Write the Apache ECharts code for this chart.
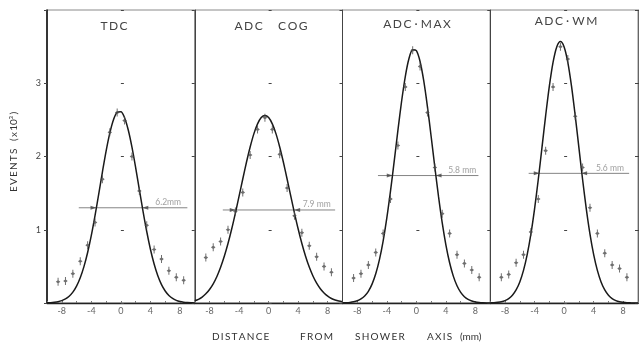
<!DOCTYPE html>
<html>
<head>
<meta charset="utf-8">
<script src="https://cdn.jsdelivr.net/npm/echarts@6/dist/echarts.min.js"></script>
<style>html,body{margin:0;padding:0;background:#fff;}#c{width:639px;height:344px;}</style>
</head>
<body>
<div id="c"></div>
<script>
// ---- data ----
const panelTitles = ['T\u2009D\u2009C', 'A\u2009D\u2009C     C\u2009O\u2009G', 'A\u2009D\u2009C \u00B7 M\u2009A\u2009X', 'A\u2009D\u2009C \u00B7 W\u2009M'];
const pointX = [-8.5,-7.5,-6.5,-5.5,-4.5,-3.5,-2.5,-1.5,-0.5,0.5,1.5,2.5,3.5,4.5,5.5,6.5,7.5,8.5];
const tdcPts = [0.29,0.30,0.40,0.57,0.79,1.10,1.69,2.33,2.60,2.49,2.00,1.53,1.06,0.73,0.60,0.44,0.35,0.31];
const cogPts = [0.62,0.76,0.84,1.00,1.25,1.51,2.02,2.37,2.53,2.37,2.03,1.57,1.19,0.96,0.78,0.63,0.50,0.42];
const maxPts = [0.34,0.40,0.52,0.69,0.95,1.42,2.15,2.95,3.45,3.23,2.60,1.85,1.22,0.95,0.66,0.54,0.45,0.35];
const wmPts  = [0.35,0.39,0.55,0.66,0.97,1.42,2.08,2.95,3.50,3.33,2.55,1.85,1.30,0.95,0.68,0.52,0.47,0.35];
const curveX = [-10,-9.5,-9,-8.5,-8,-7.5,-7,-6.5,-6,-5.5,-5,-4.5,-4,-3.5,-3,-2.5,-2,-1.5,-1,-0.5,0,0.5,1,1.5,2,2.5,3,3.5,4,4.5,5,5.5,6,6.5,7,7.5,8,8.5,9,9.5,10];
const tdcCurve = [0.003,0.005,0.010,0.018,0.033,0.056,0.093,0.149,0.231,0.345,0.497,0.690,0.924,1.194,1.488,1.788,2.074,2.319,2.502,2.603,2.612,2.529,2.361,2.127,1.848,1.548,1.252,0.976,0.734,0.532,0.372,0.251,0.164,0.103,0.062,0.036,0.020,0.011,0.006,0.003,0.001];
const cogCurve = [0.030,0.050,0.080,0.125,0.185,0.262,0.362,0.488,0.638,0.812,1.010,1.228,1.459,1.693,1.921,2.130,2.309,2.445,2.531,2.560,2.531,2.445,2.309,2.130,1.921,1.693,1.459,1.228,1.010,0.812,0.638,0.490,0.368,0.270,0.194,0.136,0.093,0.062,0.041,0.026,0.016];
const maxCurve = [0.002,0.004,0.008,0.016,0.030,0.055,0.096,0.160,0.258,0.399,0.593,0.846,1.161,1.530,1.936,2.356,2.754,3.092,3.337,3.459,3.445,3.297,3.031,2.678,2.273,1.853,1.452,1.093,0.790,0.549,0.367,0.235,0.145,0.086,0.049,0.027,0.014,0.007,0.003,0.001,0.000];
const wmCurve  = [0.002,0.004,0.009,0.017,0.033,0.060,0.106,0.178,0.287,0.445,0.660,0.941,1.286,1.686,2.121,2.558,2.960,3.285,3.496,3.570,3.496,3.285,2.960,2.558,2.121,1.686,1.286,0.941,0.660,0.445,0.287,0.178,0.106,0.060,0.033,0.017,0.009,0.004,0.002,0.001,0.000];
const fwhmLabels = ['6.2mm', '7.9 mm', '5.8 mm', '5.6 mm'];
const fwhmY = [1.30, 1.27, 1.74, 1.77];
const fwhmLineX = [[-5.7, 9.0], [-6.2, 9.0], [-5.2, 8.4], [-4.8, 8.8]];
const fwhmEdges = [[-3.3, 2.9], [-4.45, 3.45], [-3.2, 2.6], [-3.3, 2.3]];
const fwhmLabelX = [6.4, 6.5, 6.2, 6.2];
const xTickLabels = ['-8', '-4', '0', '4', '8'];
const yTickLabels = ['1', '2', '3'];
const yName = 'E\u2009V\u2009E\u2009N\u2009T\u2009S   (\u2009x\u200910\u00B3\u2009)';
const xNameParts = ['D\u2009I\u2009S\u2009T\u2009A\u2009N\u2009C\u2009E', 'F\u2009R\u2009O\u2009M', 'S\u2009H\u2009O\u2009W\u2009E\u2009R', 'A\u2009X\u2009I\u2009S', '(mm)'];

const allPts = [tdcPts, cogPts, maxPts, wmPts];
const allCurves = [tdcCurve, cogCurve, maxCurve, wmCurve];

// ---- build ----
const FONT = 'Lato, "DejaVu Sans", sans-serif';
const gridLeft = [47, 194.75, 342.5, 490.25];
const gridW = 147.75;
const grids = [], xAxes = [], yAxes = [], series = [];
const errSymbol = 'path://M-1,0 L0,-1.1 L1,0 L0,1.1 Z M-0.22,-2.4 L0.22,-2.4 L0.22,2.4 L-0.22,2.4 Z';

for (let i = 0; i < 4; i++) {
  grids.push({left: gridLeft[i], top: 10, width: gridW, height: 293, show: true,
    borderColor: '#8a8a8a', borderWidth: 1, outerBoundsMode: 'none'});
  xAxes.push({type: 'value', gridIndex: i, min: -10, max: 10, interval: 2,
    axisLine: {show: true, onZero: false, lineStyle: {color: '#222', width: 1.3}},
    axisTick: {show: true, inside: true, length: 2, lineStyle: {color: '#777'}},
    splitLine: {show: false},
    axisLabel: {fontSize: 9, color: '#666', margin: 4, fontFamily: FONT,
      formatter: v => { const s = String(v); return xTickLabels.indexOf(s) >= 0 ? s : ''; }}});
  yAxes.push({type: 'value', gridIndex: i, min: 0, max: 4, interval: 1, position: 'left',
    axisLine: {show: true, onZero: false, lineStyle: {color: i === 0 ? '#111' : '#444', width: i === 0 ? 1.6 : 1}},
    axisTick: {show: true, inside: false, length: 3, lineStyle: {color: '#444'}},
    splitLine: {show: false},
    axisLabel: {show: i === 0, fontSize: 9, color: '#444', margin: 6, fontFamily: FONT,
      formatter: v => { const s = String(v); return yTickLabels.indexOf(s) >= 0 ? s : ''; }}});
  yAxes.push({type: 'value', gridIndex: i, min: 0, max: 4, interval: 1, position: 'left',
    axisLine: {show: false}, axisTick: {show: true, inside: true, length: 3, lineStyle: {color: '#444'}},
    splitLine: {show: false}, axisLabel: {show: false}});
}
yAxes.push({type: 'value', gridIndex: 3, min: 0, max: 4, interval: 1, position: 'right',
  axisLine: {show: true, lineStyle: {color: '#666'}}, axisTick: {show: true, inside: false, length: 3, lineStyle: {color: '#444'}},
  splitLine: {show: false}, axisLabel: {show: false}});
yAxes.push({type: 'value', gridIndex: 3, min: 0, max: 4, interval: 1, position: 'right',
  axisLine: {show: false}, axisTick: {show: true, inside: true, length: 3, lineStyle: {color: '#444'}},
  splitLine: {show: false}, axisLabel: {show: false}});

for (let i = 0; i < 4; i++) {
  const yi = 2 * i;
  series.push({type: 'line', xAxisIndex: i, yAxisIndex: yi, smooth: 0.3, showSymbol: false, symbol: 'none',
    lineStyle: {color: '#1a1a1a', width: 1.5}, z: 3,
    data: curveX.map((x, k) => [x, allCurves[i][k]])});
  series.push({type: 'scatter', xAxisIndex: i, yAxisIndex: yi, symbol: errSymbol, symbolSize: [4.5, 8],
    itemStyle: {color: '#4a4a4a'}, z: 4,
    data: pointX.map((x, k) => [x, allPts[i][k]])});
  series.push({type: 'line', xAxisIndex: i, yAxisIndex: yi, symbol: 'none', z: 2,
    lineStyle: {color: '#777', width: 0.9},
    data: fwhmLineX[i].map(x => [x, fwhmY[i]])});
  series.push({type: 'scatter', xAxisIndex: i, yAxisIndex: yi, symbol: 'triangle', symbolSize: [4, 6], z: 5,
    itemStyle: {color: '#444'},
    data: [{value: [fwhmEdges[i][0], fwhmY[i]], symbolRotate: -90, symbolOffset: [-3, 0]},
           {value: [fwhmEdges[i][1], fwhmY[i]], symbolRotate: 90, symbolOffset: [3, 0]}]});
  series.push({type: 'scatter', xAxisIndex: i, yAxisIndex: yi, symbolSize: 0, silent: true,
    label: {show: true, position: 'top', distance: 1, formatter: fwhmLabels[i], fontSize: 8.5, color: '#888', fontFamily: FONT},
    data: [[fwhmLabelX[i], fwhmY[i]]]});
}

const titlePos = [[114, 26], [271, 26], [417, 24], [566, 21]];
const graphic = [];
for (let i = 0; i < 4; i++) {
  graphic.push({type: 'text', x: titlePos[i][0], y: titlePos[i][1], z: 10,
    style: {text: panelTitles[i], fill: '#444', font: '12px ' + FONT, textAlign: 'center', textVerticalAlign: 'middle'}});
}
graphic.push({type: 'text', x: 14, y: 152, rotation: Math.PI / 2, z: 10,
  style: {text: yName, fill: '#333', font: '10px ' + FONT, textAlign: 'center', textVerticalAlign: 'middle'}});
const xNameLeft = [212, 300, 355, 427, 460];
xNameParts.forEach((t, k) => graphic.push({type: 'text', x: xNameLeft[k], y: 337, z: 10,
  style: {text: t, fill: '#333', font: '10px ' + FONT, textAlign: 'left', textVerticalAlign: 'middle'}}));

const chart = echarts.init(document.getElementById('c'), null, {renderer: 'canvas'});
chart.setOption({
  animation: false,
  backgroundColor: '#fff',
  grid: grids, xAxis: xAxes, yAxis: yAxes, series: series, graphic: graphic
});
</script>
</body>
</html>
